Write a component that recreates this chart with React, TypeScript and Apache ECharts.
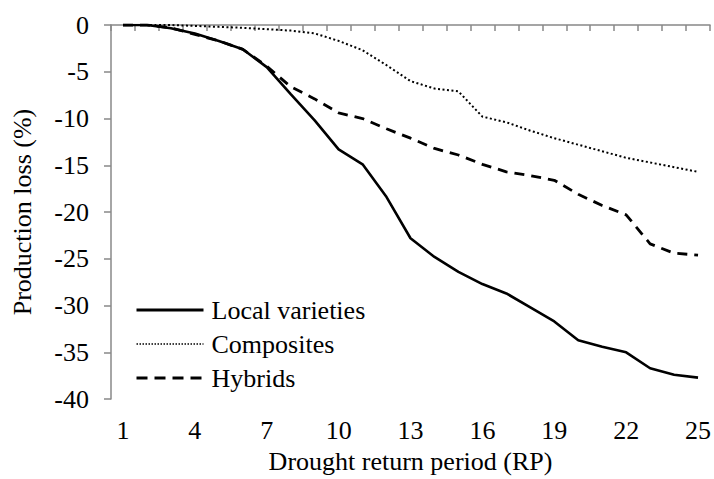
import React, { useEffect, useRef } from "react";
import * as echarts from "echarts";

const categories = Array.from({ length: 25 }, (_, i) => String(i + 1));
const localVarieties = [0, 0, -0.35, -0.9, -1.7, -2.6, -4.5, -7.4, -10.2, -13.3, -14.9, -18.4, -22.8, -24.8, -26.4, -27.7, -28.7, -30.2, -31.7, -33.7, -34.4, -35.0, -36.7, -37.4, -37.7];
const composites = [0, 0, 0, -0.1, -0.2, -0.3, -0.45, -0.6, -0.9, -1.7, -2.7, -4.3, -6.0, -6.8, -7.1, -9.8, -10.4, -11.3, -12.1, -12.8, -13.5, -14.2, -14.7, -15.2, -15.7];
const hybrids = [0, 0, -0.3, -1.0, -1.7, -2.6, -4.4, -6.6, -7.9, -9.4, -10.0, -11.1, -12.1, -13.2, -13.9, -14.9, -15.7, -16.1, -16.6, -18.1, -19.3, -20.3, -23.4, -24.4, -24.6];
const yTicks = { min: -40, max: 0, interval: 5 };

const FONT = "Liberation Serif";
const FS = 26;

export default function App() {
  const ref = useRef<HTMLDivElement>(null);
  useEffect(() => {
    if (!ref.current) return;
    const chart = echarts.init(ref.current, undefined, { renderer: "svg" });
    const axisColor = "#888888";
    chart.setOption({
      animation: false,
      backgroundColor: "#ffffff",
      textStyle: { fontFamily: FONT, color: "#000" },
      grid: { left: 111, right: 2, top: 25, bottom: 73, containLabel: false },
      legend: {
        orient: "vertical",
        left: 135,
        top: 297,
        padding: 0,
        itemWidth: 67,
        itemHeight: 14,
        itemGap: 8,
        itemStyle: { opacity: 0 },
        textStyle: { fontFamily: FONT, fontSize: FS, color: "#000", padding: [0, 0, 0, 3], lineHeight: 26 },
        data: [
          { name: "Local varieties", lineStyle: { width: 3, type: "solid" } },
          { name: "Composites", lineStyle: { width: 1.5, type: [1.5, 1.5] } },
          { name: "Hybrids", lineStyle: { width: 3, type: [11, 7] } },
        ],
      },
      xAxis: {
        type: "category",
        data: categories,
        boundaryGap: true,
        name: "Drought return period (RP)",
        nameLocation: "middle",
        nameGap: 48,
        nameTextStyle: { fontFamily: FONT, fontSize: FS, color: "#000" },
        axisLine: { show: true, lineStyle: { color: axisColor, width: 1.5 } },
        axisTick: { show: true, interval: 0, alignWithLabel: false, length: 6, lineStyle: { color: axisColor, width: 1.5 } },
        axisLabel: { interval: 2, fontFamily: FONT, fontSize: FS, color: "#000", margin: 18 },
        splitLine: { show: false },
      },
      yAxis: {
        type: "value",
        min: yTicks.min,
        max: yTicks.max,
        interval: yTicks.interval,
        name: "Production loss (%)",
        nameLocation: "middle",
        nameGap: 76,
        nameRotate: 90,
        nameTextStyle: { fontFamily: FONT, fontSize: FS, color: "#000" },
        axisLine: { show: true, lineStyle: { color: axisColor, width: 1.5 } },
        axisTick: { show: true, length: 7, lineStyle: { color: axisColor, width: 1.5 } },
        axisLabel: { fontFamily: FONT, fontSize: FS, color: "#000", margin: 22 },
        splitLine: { show: false },
      },
      series: [
        { name: "Local varieties", type: "line", data: localVarieties, symbol: "none", lineStyle: { color: "#000", width: 2.6, type: "solid" }, itemStyle: { color: "#000" } },
        { name: "Composites", type: "line", data: composites, symbol: "none", lineStyle: { color: "#000", width: 2, type: [2, 2.5] }, itemStyle: { color: "#000" } },
        { name: "Hybrids", type: "line", data: hybrids, symbol: "none", lineStyle: { color: "#000", width: 2.8, type: [10, 7] }, itemStyle: { color: "#000" } },
      ],
    });
    return () => chart.dispose();
  }, []);
  return <div ref={ref} style={{ width: 714, height: 479, position: "absolute", left: 0, top: 0 }} />;
}
